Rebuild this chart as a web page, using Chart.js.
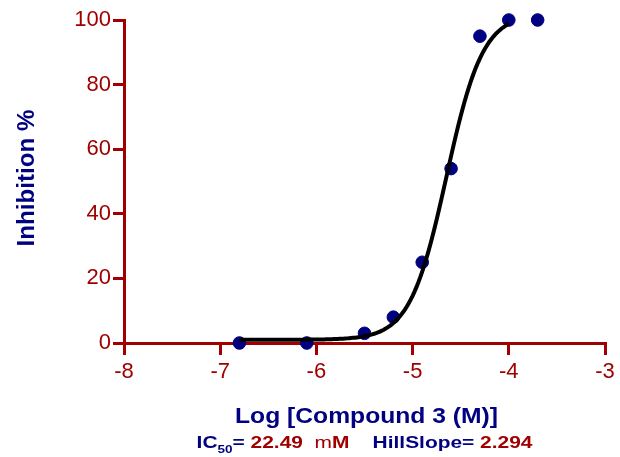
<!DOCTYPE html>
<html>
<head>
<meta charset="utf-8">
<script src="https://cdn.jsdelivr.net/npm/chart.js@4/dist/chart.umd.min.js"></script>
<style>
  html, body { margin: 0; padding: 0; background: #ffffff; }
  #wrap { width: 620px; height: 457px; }
</style>
</head>
<body>
<div id="wrap"><canvas id="c" width="620" height="457"></canvas></div>
<script>
// Measured inhibition at each log concentration
const logConc = [-6.8, -6.1, -5.5, -5.2, -4.9, -4.6, -4.3, -4.0, -3.7];
const inhibition = [0, 0, 3, 8, 25, 54, 95, 100, 100];

// Axis ticks
const xTicks = [-8, -7, -6, -5, -4, -3];
const yTicks = [0, 20, 40, 60, 80, 100];

// Fitted dose-response parameters (shown under the axis)
const IC50_UM = 22.49;
const HILL_SLOPE = 2.294;
const CURVE_BOTTOM = 1;
const CURVE_TOP = 102;
const CURVE_FROM = -6.8;
const CURVE_TO = -4.0;

const NAVY = '#000080';
const RED = '#a00000';
const FONT = '"Liberation Sans", Arial, sans-serif';

// Four-parameter logistic curve sampled along the fitted range
const logIC50 = Math.log10(IC50_UM * 1e-6);
const curve = [];
for (let i = 0; i <= 140; i++) {
  const x = CURVE_FROM + (CURVE_TO - CURVE_FROM) * i / 140;
  const y = CURVE_BOTTOM + (CURVE_TOP - CURVE_BOTTOM) /
    (1 + Math.pow(10, (logIC50 - x) * HILL_SLOPE));
  curve.push({ x, y });
}

const points = logConc.map((x, i) => ({ x, y: inhibition[i] }));

// Draws a string stretched along its writing direction to a given width
function wideText(ctx, text, cx, y, font, width) {
  ctx.font = font;
  const w = ctx.measureText(text).width;
  const s = width / w;
  ctx.save();
  ctx.translate(cx, y);
  ctx.scale(s, 1);
  ctx.textAlign = 'center';
  ctx.fillText(text, 0, 0);
  ctx.restore();
}

const titles = {
  id: 'titles',
  afterDraw(chart) {
    const ctx = chart.ctx;
    const area = chart.chartArea;
    const cx = (area.left + area.right) / 2;
    ctx.save();
    ctx.textBaseline = 'alphabetic';
    ctx.fillStyle = NAVY;

    // y axis title
    ctx.save();
    ctx.translate(34, 178);
    ctx.rotate(-Math.PI / 2);
    wideText(ctx, 'Inhibition %', 0, 0, 'bold 24px ' + FONT, 137);
    ctx.restore();

    // x axis title
    wideText(ctx, 'Log [Compound 3 (M)]', cx + 2, 423, 'bold 22px ' + FONT, 263);

    // fit summary line
    const sx = 1.23;
    const parts = [
      { t: 'IC', c: NAVY, f: 'bold 17px ' + FONT, dy: 0 },
      { t: '50', c: NAVY, f: 'bold 11px ' + FONT, dy: 5 },
      { t: '= ', c: NAVY, f: 'bold 17px ' + FONT, dy: 0 },
      { t: IC50_UM.toFixed(2) + '  ', c: RED, f: 'bold 17px ' + FONT, dy: 0 },
      { t: 'm', c: RED, f: '17px ' + FONT, dy: 0 },
      { t: 'M    ', c: RED, f: 'bold 17px ' + FONT, dy: 0 },
      { t: 'HillSlope= ', c: NAVY, f: 'bold 17px ' + FONT, dy: 0 },
      { t: HILL_SLOPE.toFixed(3), c: RED, f: 'bold 17px ' + FONT, dy: 0 }
    ];
    let total = 0;
    parts.forEach(p => { ctx.font = p.f; p.w = ctx.measureText(p.t).width * sx; total += p.w; });
    let x = cx - total / 2;
    ctx.textAlign = 'left';
    parts.forEach(p => {
      ctx.font = p.f;
      ctx.fillStyle = p.c;
      ctx.save();
      ctx.translate(x, 448 + p.dy);
      ctx.scale(sx, 1);
      ctx.fillText(p.t, 0, 0);
      ctx.restore();
      x += p.w;
    });
    ctx.restore();
  }
};

new Chart(document.getElementById('c'), {
  type: 'scatter',
  data: {
    datasets: [
      {
        label: 'fit',
        data: curve,
        showLine: true,
        borderColor: '#000000',
        borderWidth: 4,
        pointRadius: 0,
        tension: 0,
        order: 0,
        clip: false
      },
      {
        label: 'inhibition',
        data: points,
        showLine: false,
        backgroundColor: NAVY,
        borderColor: NAVY,
        pointRadius: 6.3,
        pointHoverRadius: 6.3,
        order: 1,
        clip: false
      }
    ]
  },
  options: {
    responsive: false,
    animation: false,
    events: [],
    layout: { padding: { top: 20, right: 15, bottom: 0, left: 0 } },
    plugins: { legend: { display: false }, tooltip: { enabled: false } },
    scales: {
      x: {
        type: 'linear',
        min: xTicks[0],
        max: xTicks[xTicks.length - 1],
        afterBuildTicks: s => { s.ticks = xTicks.map(v => ({ value: v })); },
        afterFit: s => { s.height = 114; },
        border: { display: true, color: RED, width: 3 },
        grid: { display: true, drawOnChartArea: false, drawTicks: true, tickLength: 12, color: RED, lineWidth: 3 },
        ticks: { color: RED, font: { family: FONT, size: 22 }, padding: 4, maxRotation: 0 }
      },
      y: {
        type: 'linear',
        min: yTicks[0],
        max: yTicks[yTicks.length - 1],
        afterBuildTicks: s => { s.ticks = yTicks.map(v => ({ value: v })); },
        afterFit: s => { s.width = 124; },
        border: { display: true, color: RED, width: 3 },
        grid: { display: true, drawOnChartArea: false, drawTicks: true, tickLength: 11, color: RED, lineWidth: 3 },
        ticks: { color: RED, font: { family: FONT, size: 22 }, padding: 2 }
      }
    }
  },
  plugins: [titles]
});
</script>
</body>
</html>
